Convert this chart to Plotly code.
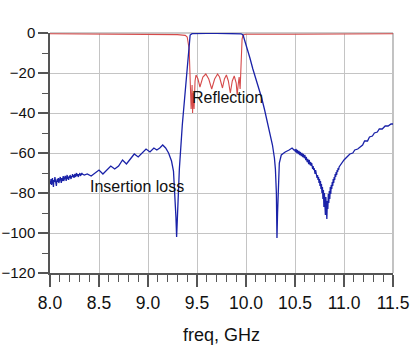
import plotly.graph_objects as go

# ---------------- data ----------------
# Insertion loss (S21), dB
il_freq_a = [round(8.000 + 0.005 * i, 3) for i in range(67)]
il_db_a = [
    -74, -75.5, -73, -76, -74, -72.5, -75, -77, -73.5, -74.5,
    -72, -75, -73.5, -76.5, -74, -73, -74.5, -72.5, -75, -73,
    -74, -72, -73.5, -75, -72.5, -74, -73, -71.5, -74, -72.5,
    -73, -71.5, -72.5, -74, -72, -71, -73, -72, -73.5, -71.5,
    -72.5, -71, -72, -73, -71.5, -72, -70.5, -72, -71, -72.5,
    -71, -70.5, -72, -71, -70, -71.5, -70.5, -71, -72, -70.5,
    -71, -70, -71.5, -70.5, -71, -70, -70.5,
]
il_freq_b = [8.35, 8.38, 8.42, 8.46, 8.50, 8.54, 8.58, 8.62, 8.66, 8.70,
             8.74, 8.78, 8.82, 8.86, 8.90, 8.94, 8.98, 9.02, 9.06, 9.09,
             9.12, 9.15, 9.18, 9.21, 9.24, 9.26, 9.275, 9.285, 9.292, 9.30,
             9.32, 9.35, 9.38, 9.40, 9.42, 9.43, 9.45, 9.50, 9.60, 9.70,
             9.80, 9.90, 9.95, 9.97, 9.99, 10.02, 10.04, 10.07, 10.09, 10.12,
             10.16, 10.19, 10.22, 10.25, 10.27, 10.29, 10.30, 10.31, 10.316, 10.322,
             10.33, 10.34, 10.36, 10.40, 10.44, 10.47, 10.49]
il_db_b = [-71, -70.5, -71.5, -70, -68.5, -70.5, -68.5, -66.5, -68, -66.5,
           -63.5, -65.5, -63, -60.5, -62, -60, -58, -59.5, -57.5, -58.5,
           -57.5, -56, -57.5, -60, -64, -69, -80, -92, -102, -90,
           -68, -46, -28, -16, -5, -1, -0.3, -0.2, -0.15, -0.2,
           -0.15, -0.2, -0.4, -1, -4, -9, -12.5, -18, -21, -26,
           -32.5, -38.5, -44.5, -51, -56, -62.5, -68, -80, -102.5, -90,
           -75, -65, -61, -59.5, -58.5, -57.5, -58.5]
il_freq_c = [round(10.500 + 0.005 * i, 3) for i in range(91)]
il_db_c = [
    -58.5, -59.5, -58, -59, -60, -58.5, -59.5, -60.5, -59, -60,
    -61, -59.5, -60.5, -61.5, -60, -61, -62, -60.5, -61.5, -62.5,
    -61, -62.5, -63.5, -62, -63, -64.5, -63, -64, -65.5, -63.5,
    -65, -66, -64.5, -66.5, -65, -67, -68, -66.5, -68.5, -67.5,
    -69, -70.5, -68.5, -71, -70, -72.5, -71, -73.5, -72, -75,
    -73, -76.5, -74, -78, -75.5, -80, -77, -83, -78.5, -87,
    -80, -84, -91, -82, -86, -93, -84, -88, -80.5, -85,
    -79, -83, -77, -80.5, -76, -78, -74.5, -76.5, -73, -75,
    -72, -73.5, -70.5, -72, -69.5, -71, -68.5, -69.5, -67.5, -68.5,
    -67,
]
il_freq_d = [10.97, 11.00, 11.03, 11.06, 11.09, 11.11, 11.14, 11.17, 11.19, 11.21,
             11.24, 11.26, 11.29, 11.31, 11.34, 11.36, 11.39, 11.42, 11.45, 11.48, 11.50]
il_db_d = [-65.5, -63.5, -62, -60.5, -60, -58.5, -58, -56.5, -56, -54,
           -54, -52, -51.5, -50, -49.5, -48, -48, -46.5, -46.5, -45.5, -45.5]

# Reflection (S11), dB
rl_freq = [8.00, 8.50, 9.00, 9.30, 9.38, 9.40, 9.42, 9.43, 9.44, 9.45,
           9.455, 9.46, 9.47, 9.48, 9.49, 9.51, 9.53, 9.56, 9.59, 9.62,
           9.65, 9.68, 9.71, 9.73, 9.76, 9.78, 9.80, 9.82, 9.84, 9.86,
           9.88, 9.90, 9.91, 9.92, 9.93, 9.94, 9.95, 9.96, 9.97, 10.00,
           10.50, 11.00, 11.50]
rl_db = [-0.4, -0.5, -0.6, -0.8, -1.2, -2, -8, -25, -38, -26,
         -40, -30, -38, -24, -21, -23, -27, -22, -20.5, -23,
         -28, -23, -20.5, -22, -27.5, -23, -21, -24, -30, -24,
         -21.5, -25, -31, -26, -22, -28, -12, -3, -1, -0.6,
         -0.6, -0.5, -0.4]

x_ticks = [8.0, 8.5, 9.0, 9.5, 10.0, 10.5, 11.0, 11.5]
x_tick_text = ["8.0", "8.5", "9.0", "9.5", "10.0", "10.5", "11.0", "11.5"]
y_ticks = [0, -20, -40, -60, -80, -100, -120]

il_freq = il_freq_a + il_freq_b + il_freq_c + il_freq_d
il_db = il_db_a + il_db_b + il_db_c + il_db_d

# ---------------- figure ----------------
fig = go.Figure()
fig.add_trace(go.Scatter(x=rl_freq, y=rl_db, mode="lines",
                         line=dict(color="#d64a4a", width=1.1), name="Reflection"))
fig.add_trace(go.Scatter(x=il_freq, y=il_db, mode="lines",
                         line=dict(color="#1a22a8", width=1.3), name="Insertion loss"))

FONT = "Liberation Sans, Arial, sans-serif"
tickfont_y = dict(family=FONT, size=15, color="#111")
tickfont_x = dict(family=FONT, size=17.5, color="#111")

fig.update_layout(
    width=419, height=351,
    margin=dict(l=50, r=26, t=33, b=78, autoexpand=False),
    paper_bgcolor="white", plot_bgcolor="white",
    showlegend=False,
    xaxis=dict(
        range=[8, 11.5], tickvals=x_ticks, ticktext=x_tick_text,
        automargin=False,
        showgrid=True, gridcolor="#c4c4c4", gridwidth=1,
        zeroline=False, showline=True, linecolor="#555", linewidth=1.5,
        ticks="outside", ticklen=12, tickwidth=1.5, tickcolor="#555",
        ticklabelstandoff=1,
        minor=dict(ticks="outside", ticklen=7, dtick=0.1, tick0=8.0,
                   tickcolor="#555", tickwidth=1, showgrid=False),
        tickfont=tickfont_x,
        title=dict(text="freq, GHz", standoff=17,
                   font=dict(family=FONT, size=18, color="#111")),
    ),
    yaxis=dict(
        range=[-120, 0], tickvals=y_ticks,
        automargin=False,
        showgrid=True, gridcolor="#c4c4c4", gridwidth=1,
        zeroline=False, showline=True, linecolor="#555", linewidth=1.5,
        ticks="outside", ticklen=10, tickwidth=1.5, tickcolor="#555",
        minor=dict(ticks="outside", ticklen=6, dtick=10, tick0=0,
                   tickcolor="#555", tickwidth=1, showgrid=False),
        tickfont=tickfont_y,
    ),
    shapes=[
        dict(type="line", xref="paper", yref="paper", x0=0, x1=1, y0=1, y1=1,
             line=dict(color="#9a9a9a", width=1.2), layer="below"),
        dict(type="line", xref="paper", yref="paper", x0=1, x1=1, y0=0, y1=1,
             line=dict(color="#9a9a9a", width=1.2), layer="below"),
    ],
    annotations=[
        dict(x=9.81, y=-32, xref="x", yref="y", text="Reflection", showarrow=False,
             font=dict(family=FONT, size=16, color="#111")),
        dict(x=8.89, y=-76.5, xref="x", yref="y", text="Insertion loss", showarrow=False,
             font=dict(family=FONT, size=16, color="#111")),
    ],
)

# remove the browser's default 8 px body margin so the figure sits at the page origin
fig.write_html("out.html", config={"displayModeBar": False},
               post_script="document.body.style.margin='0';")
